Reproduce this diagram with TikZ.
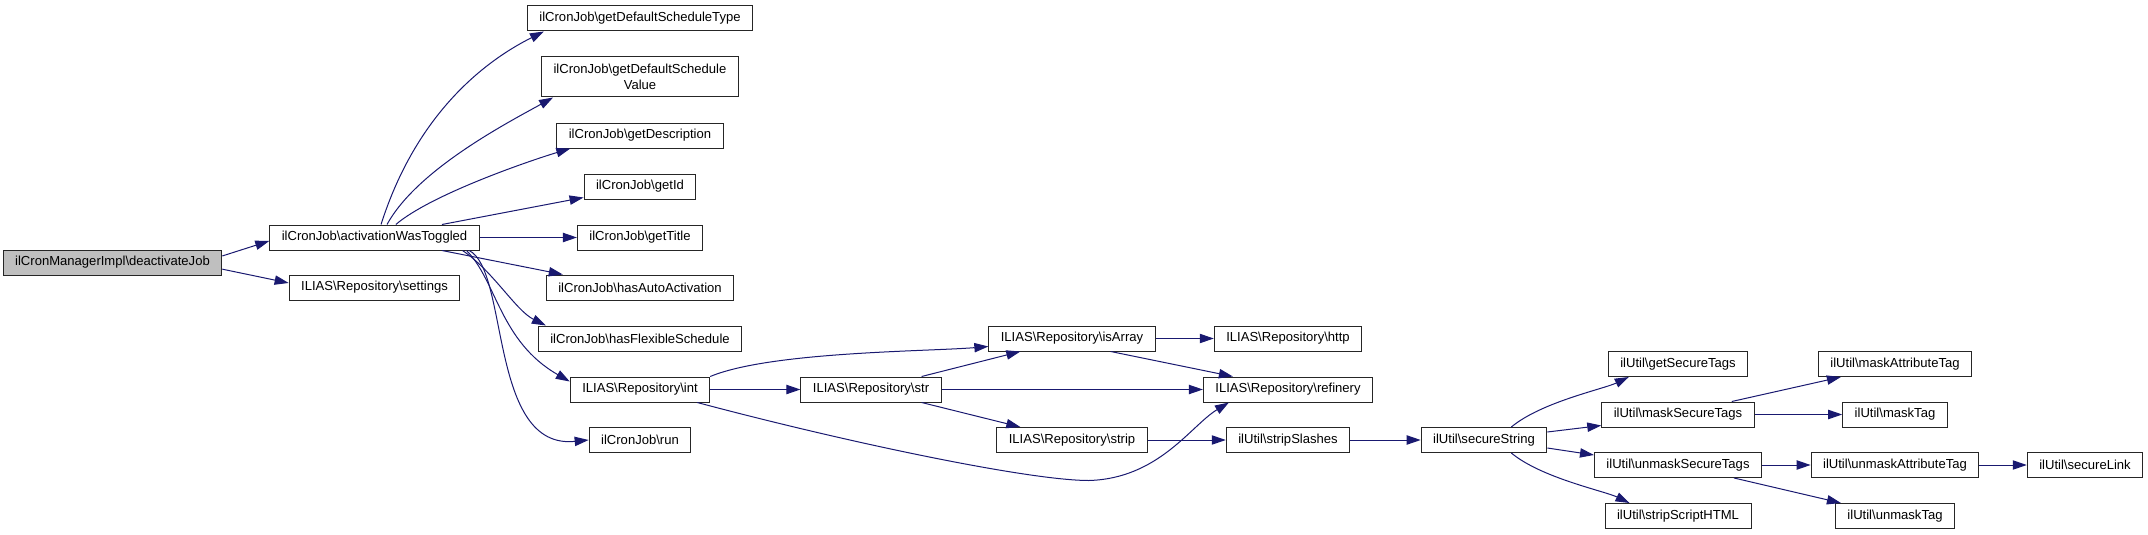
\documentclass[tikz,border=0pt]{standalone}
\usepackage{fontspec}
\setmainfont{Liberation Sans}
\usetikzlibrary{arrows.meta}
\newcommand\bsl{\textbackslash}
\definecolor{callblue}{RGB}{25,25,112}
\definecolor{rootgray}{RGB}{191,191,191}
\begin{document}
\begin{tikzpicture}[x=0.75pt,y=-0.75pt,
	fn/.style={draw=black!85,line width=0.75pt,fill=white,inner xsep=9pt,inner ysep=2pt,minimum height=18.75pt,align=center,font=\fontsize{9.8}{12}\selectfont},
	root/.style={fn,fill=rootgray},
	call/.style={callblue,line width=0.75pt,-{Triangle[length=10.5pt,width=7pt]}}]
	\useasboundingbox (0,0) rectangle (2148,535);
	
	\node[root] (deact) at (112.5,262.5) {ilCronManagerImpl\bsl deactivateJob};
	\node[fn] (act) at (374.5,237.5) {ilCronJob\bsl activationWasToggled};
	\node[fn] (settings) at (374.5,287.5) {ILIAS\bsl Repository\bsl settings};
	
	\node[fn] (dtype) at (640,18.5) {ilCronJob\bsl getDefaultScheduleType};
	\node[fn,minimum height=30pt] (dvalue) at (640,77) {ilCronJob\bsl getDefaultSchedule\\Value};
	\node[fn] (descr) at (640,135.5) {ilCronJob\bsl getDescription};
	\node[fn] (getid) at (640,186.5) {ilCronJob\bsl getId};
	\node[fn] (title) at (640,237.5) {ilCronJob\bsl getTitle};
	\node[fn] (autoact) at (640,287.5) {ilCronJob\bsl hasAutoActivation};
	\node[fn] (flex) at (640,338.5) {ilCronJob\bsl hasFlexibleSchedule};
	\node[fn] (int) at (640,389.5) {ILIAS\bsl Repository\bsl int};
	\node[fn] (run) at (640,440) {ilCronJob\bsl run};
	
	\node[fn] (str) at (871,389.5) {ILIAS\bsl Repository\bsl str};
	\node[fn] (isarr) at (1072,338.5) {ILIAS\bsl Repository\bsl isArray};
	\node[fn] (strip) at (1072,440) {ILIAS\bsl Repository\bsl strip};
	\node[fn] (http) at (1288,338.5) {ILIAS\bsl Repository\bsl http};
	\node[fn] (refin) at (1288,389.5) {ILIAS\bsl Repository\bsl refinery};
	\node[fn] (slashes) at (1288,440) {ilUtil\bsl stripSlashes};
	\node[fn] (securestr) at (1484,440) {ilUtil\bsl secureString};
	
	\node[fn] (gettags) at (1678,364) {ilUtil\bsl getSecureTags};
	\node[fn] (masktags) at (1678,414.5) {ilUtil\bsl maskSecureTags};
	\node[fn] (unmasktags) at (1678,465) {ilUtil\bsl unmaskSecureTags};
	\node[fn] (striphtml) at (1678,516) {ilUtil\bsl stripScriptHTML};
	\node[fn] (maskattr) at (1895,364) {ilUtil\bsl maskAttributeTag};
	\node[fn] (masktag) at (1895,414.5) {ilUtil\bsl maskTag};
	\node[fn] (unmaskattr) at (1895,465) {ilUtil\bsl unmaskAttributeTag};
	\node[fn] (unmasktag) at (1895,516) {ilUtil\bsl unmaskTag};
	\node[fn] (link) at (2085,465) {ilUtil\bsl secureLink};
	
	\draw[call] ([yshift=4.9pt]deact.east) -- ([yshift=-2.6pt]act.west);
	\draw[call] ([yshift=-5pt]deact.east) -- ([yshift=3.4pt]settings.west);
	
	\draw[call] ([xshift=4.9pt]act.north) .. controls +(35,-110) and +(-60,30) .. ([xshift=12.75pt]dtype.south west);
	\draw[call] ([xshift=9.4pt]act.north) .. controls +(30,-55) and +(-45,25) .. ([xshift=9pt]dvalue.south west);
	\draw[call] ([xshift=16pt]act.north) .. controls +(35,-30) and +(-40,12) .. ([xshift=10.5pt]descr.south west);
	\draw[call] ([xshift=50.6pt]act.north) -- ([yshift=1.5pt]getid.south west);
	\draw[call] (act.east) -- (title.west);
	\draw[call] ([xshift=50.6pt]act.south) -- ([xshift=12.75pt]autoact.north west);
	\draw[call] ([xshift=66pt]act.south) .. controls +(30,20) and +(-30,-15) .. ([xshift=6pt]flex.north west);
	\draw[call] ([xshift=69pt]act.south) .. controls +(30,30) and +(-70,-40) .. ([yshift=-3.75pt]int.north west);
	\draw[call] ([xshift=71pt]act.south) .. controls +(40,20) and +(-100,10) .. (run.west);
	
	\draw[call] (int.north east) .. controls +(60,-25) and +(-60,5) .. ([yshift=3.75pt]isarr.south west);
	\draw[call] (int.east) -- (str.west);
	\draw[call] ([xshift=-9.75pt]int.south east) .. controls +(150,40) and +(-60,0) .. ([shift={(-114,78)}]refin.south west) .. controls +(70,-2) and +(-38,23) .. ([xshift=19.5pt]refin.south west);
	
	\draw[call] ([xshift=-15pt]str.north east) -- ([xshift=24pt]isarr.south west);
	\draw[call] (str.east) -- (refin.west);
	\draw[call] ([xshift=-15pt]str.south east) -- ([xshift=18pt]strip.north west);
	\draw[call] (isarr.east) -- (http.west);
	\draw[call] ([xshift=-33.75pt]isarr.south east) -- ([xshift=22.5pt]refin.north west);
	\draw[call] (strip.east) -- (slashes.west);
	\draw[call] (slashes.east) -- (securestr.west);
	
	\draw[call] ([xshift=-27pt]securestr.north east) .. controls +(30,-25) and +(-25,12) .. ([xshift=15.75pt]gettags.south west);
	\draw[call] ([yshift=-3.75pt]securestr.north east) -- ([yshift=1.5pt]masktags.south west);
	\draw[call] ([yshift=3.75pt]securestr.south east) -- ([yshift=-2.25pt]unmasktags.north west);
	\draw[call] ([xshift=-27pt]securestr.south east) .. controls +(30,25) and +(-25,-12) .. ([xshift=18.75pt]striphtml.north west);
	\draw[call] ([xshift=-17.25pt]masktags.north east) -- ([xshift=17.25pt]maskattr.south west);
	\draw[call] (masktags.east) -- (masktag.west);
	\draw[call] (unmasktags.east) -- (unmaskattr.west);
	\draw[call] ([xshift=-21pt]unmasktags.south east) -- ([xshift=4.5pt]unmasktag.north west);
	\draw[call] (unmaskattr.east) -- (link.west);
\end{tikzpicture}
\end{document}
